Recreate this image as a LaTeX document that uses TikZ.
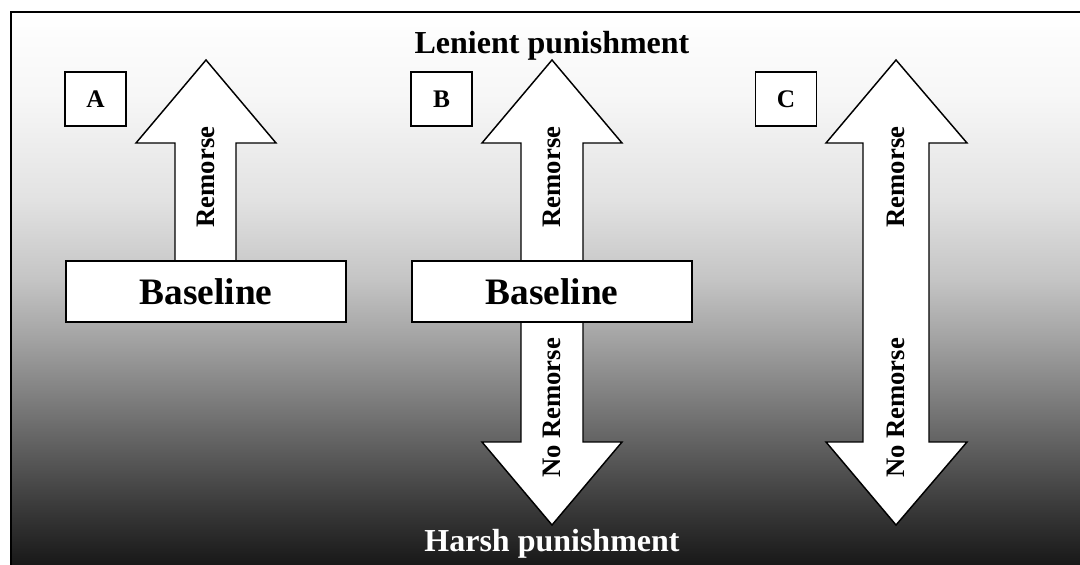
\documentclass[tikz,border=0pt]{standalone}
\usepackage{fontspec}
\setmainfont{Liberation Serif}
\definecolor{g0}{gray}{1.0}
\definecolor{g1}{gray}{0.965}
\definecolor{g2}{gray}{0.886}
\definecolor{g3}{gray}{0.769}
\definecolor{g4}{gray}{0.635}
\definecolor{g5}{gray}{0.439}
\definecolor{g6}{gray}{0.243}
\definecolor{g7}{gray}{0.06}
\begin{document}
\begin{tikzpicture}[x=0.75pt,y=-0.75pt,
  arrowshape/.style={fill=white,draw=black,line width=1.1pt,line join=miter},
  letterbox/.style={draw=black,fill=white,line width=1.1pt,minimum width=45.75pt,minimum height=40.5pt,inner sep=0pt,font=\bfseries\fontsize{19}{22}\selectfont},
  basebox/.style={draw=black,fill=white,line width=1.1pt,minimum width=210pt,minimum height=45.75pt,inner sep=0pt,font=\bfseries\fontsize{28}{32}\selectfont},
  vlabel/.style={rotate=90,inner sep=0pt,font=\bfseries\fontsize{20}{24}\selectfont},
  title/.style={anchor=base,inner sep=0pt,font=\bfseries\fontsize{24}{28}\selectfont}]
\useasboundingbox (0,0) rectangle (1080,564);
\clip (0,0) rectangle (1080,564);
\fill[white] (0,0) rectangle (1080,564);
% background gradient
\shade[top color=g0,bottom color=g1] (11,12) rectangle (1095,100.5);
\shade[top color=g1,bottom color=g2] (11,100) rectangle (1095,200.5);
\shade[top color=g2,bottom color=g3] (11,200) rectangle (1095,280.5);
\shade[top color=g3,bottom color=g4] (11,280) rectangle (1095,340.5);
\shade[top color=g4,bottom color=g5] (11,340) rectangle (1095,420.5);
\shade[top color=g5,bottom color=g6] (11,420) rectangle (1095,500.5);
\shade[top color=g6,bottom color=g7] (11,500) rectangle (1095,580);
\draw[line width=1.5pt] (11,12) rectangle (1095,580);

% titles
\node[title] (lenient) at (552,53) {Lenient punishment};
\node[title,text=white] (harsh) at (552,551) {Harsh punishment};

% panel A
\draw[arrowshape] (206,60) -- (276,143) -- (236,143) -- (236,261) -- (175,261) -- (175,143) -- (136,143) -- cycle;
\node[basebox] (baseA) at (206,291.5) {Baseline};
\node[letterbox] (boxA) at (95.5,99) {A};
\node[vlabel] (remA) at (206,177) {Remorse};

% panel B
\draw[arrowshape] (552,60) -- (622,143) -- (583,143) -- (583,261) -- (521,261) -- (521,143) -- (482,143) -- cycle;
\draw[arrowshape] (521,322) -- (521,442) -- (482,442) -- (552,525) -- (622,442) -- (583,442) -- (583,322) -- cycle;
\node[basebox] (baseB) at (552,291.5) {Baseline};
\node[letterbox] (boxB) at (441.5,99) {B};
\node[vlabel] (remB) at (552,177) {Remorse};
\node[vlabel] (noremB) at (552,408) {No Remorse};

% panel C
\draw[arrowshape] (896,60) -- (967,143) -- (929,143) -- (929,442) -- (967,442) -- (896,525) -- (826,442) -- (863,442) -- (863,143) -- (826,143) -- cycle;
\node[letterbox] (boxC) at (786,99) {C};
\node[vlabel] (remC) at (896,177) {Remorse};
\node[vlabel] (noremC) at (896,408) {No Remorse};
\end{tikzpicture}
\end{document}
